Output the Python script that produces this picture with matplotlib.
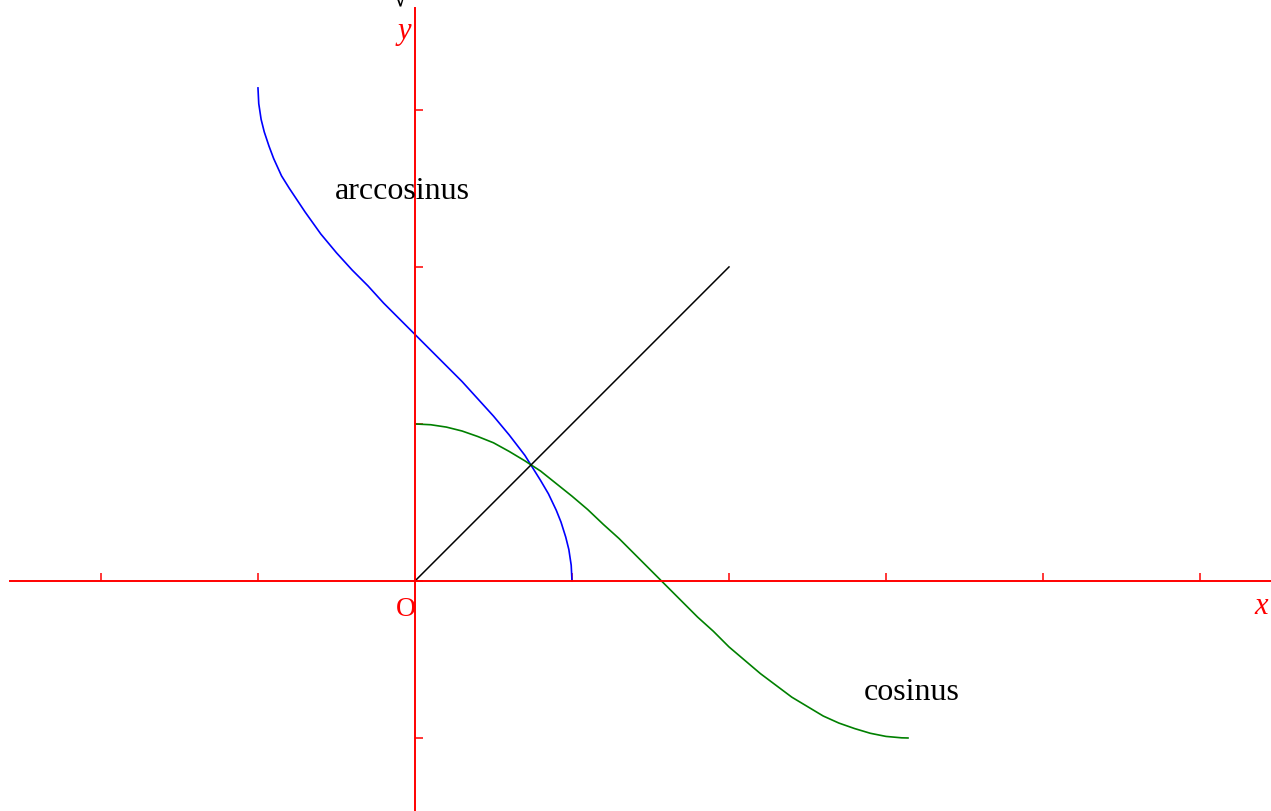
import matplotlib
matplotlib.use('Agg')
import matplotlib.pyplot as plt

plt.rcParams['font.family'] = ['Liberation Serif', 'DejaVu Serif']

# cosine on [0, pi]
cos_x = [0.0, 0.1, 0.2, 0.3, 0.4, 0.5, 0.6, 0.7, 0.8, 0.9, 1.0, 1.1, 1.2, 1.3, 1.4, 1.5,
         1.6, 1.7, 1.8, 1.9, 2.0, 2.1, 2.2, 2.3, 2.4, 2.5, 2.6, 2.7, 2.8, 2.9, 3.0, 3.1, 3.14]
cos_y = [1.00, 0.995, 0.98, 0.955, 0.92, 0.88, 0.825, 0.765, 0.70, 0.62, 0.54, 0.455, 0.36,
         0.27, 0.17, 0.07, -0.03, -0.13, -0.23, -0.32, -0.42, -0.505, -0.59, -0.665, -0.74,
         -0.80, -0.86, -0.905, -0.94, -0.97, -0.99, -0.999, -1.00]

# arccosine on [-1, 1]
acos_x = [-1.0, -0.995, -0.98, -0.96, -0.93, -0.9, -0.85, -0.8, -0.7, -0.6, -0.5, -0.4, -0.3,
          -0.2, -0.1, 0.0, 0.1, 0.2, 0.3, 0.4, 0.5, 0.6, 0.7, 0.8, 0.85, 0.9, 0.93, 0.96,
          0.98, 0.995, 1.0]
acos_y = [3.14, 3.04, 2.94, 2.86, 2.77, 2.69, 2.58, 2.50, 2.35, 2.21, 2.09, 1.98, 1.88,
          1.77, 1.67, 1.57, 1.47, 1.37, 1.27, 1.16, 1.05, 0.93, 0.80, 0.64, 0.555, 0.45,
          0.375, 0.28, 0.20, 0.10, 0.00]

# bisector y = x
diag_x = [0, 2]
diag_y = [0, 2]

x_ticks = [-2, -1, 0, 1, 2, 3, 4, 5]
y_ticks = [-1, 0, 1, 2, 3]

fig = plt.figure(figsize=(12.71, 8.11), dpi=100)
ax = fig.add_axes([0, 0, 1, 1])
ax.set_xlim(-2.643, 5.452)
ax.set_ylim(-1.465, 3.70)

red = '#ff0000'
for side in ('top', 'right'):
    ax.spines[side].set_visible(False)
ax.spines['left'].set_position(('data', 0))
ax.spines['bottom'].set_position(('data', 0))
ax.spines['left'].set_bounds(-1.465, 3.65)
ax.spines['bottom'].set_bounds(-2.58, 5.452)
for side in ('left', 'bottom'):
    ax.spines[side].set_color(red)
    ax.spines[side].set_linewidth(1.4)

ax.set_xticks(x_ticks)
ax.set_yticks(y_ticks)
ax.tick_params(direction='in', length=6, width=1.1, color=red,
               labelbottom=False, labelleft=False)

ax.plot(acos_x, acos_y, color='#0000ff', lw=1.2)
ax.plot(cos_x, cos_y, color='#008000', lw=1.2)
ax.plot(diag_x, diag_y, color='black', lw=1.1)

ax.text(-0.51, 2.48, 'arccosinus', fontsize=23, color='black', ha='left', va='center')
ax.text(2.86, -0.71, 'cosinus', fontsize=23, color='black', ha='left', va='center')
ax.text(-0.06, -0.18, 'O', fontsize=20, color=red, ha='center', va='center')
ax.text(5.43, -0.16, 'x', fontsize=22, color=red, style='italic', ha='right', va='center')
ax.text(-0.07, 3.50, 'y', fontsize=22, color=red, style='italic', ha='center', va='center')
ax.text(-0.10, 3.665, '√', fontsize=22, color='black', ha='center', va='baseline')

fig.savefig('out.png', dpi=100)
